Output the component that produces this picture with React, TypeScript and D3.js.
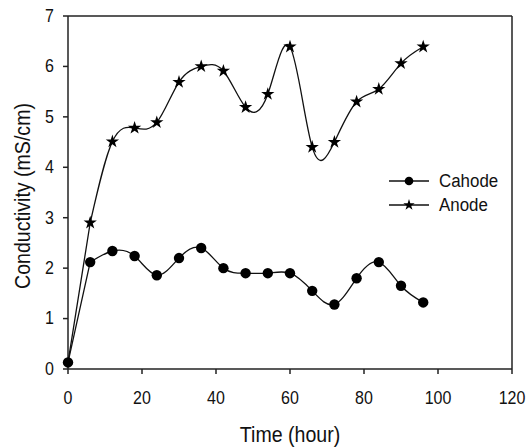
import React from "react";
import * as d3 from "d3";

const times = [0, 6, 12, 18, 24, 30, 36, 42, 48, 54, 60, 66, 72, 78, 84, 90, 96];
const cathode = [0.13, 2.12, 2.34, 2.24, 1.86, 2.2, 2.4, 2.0, 1.9, 1.9, 1.9, 1.55, 1.28, 1.8, 2.12, 1.65, 1.32];
const anode = [0.13, 2.9, 4.51, 4.78, 4.89, 5.69, 6.0, 5.91, 5.19, 5.45, 6.39, 4.4, 4.5, 5.3, 5.55, 6.06, 6.39];
const xTicks = [0, 20, 40, 60, 80, 100, 120];
const yTicks = [0, 1, 2, 3, 4, 5, 6, 7];
const legendLabels = ["Cahode", "Anode"];

const W = 529, H = 448;
const SX = 0.89;
const FONT = "Arial, 'Liberation Sans', sans-serif";

export default function App() {
  const x = d3.scaleLinear().domain([0, 120]).range([68, 512]);
  const y = d3.scaleLinear().domain([0, 7]).range([369, 16]);

  const toPts = (vals: number[]) => times.map((t, i) => [x(t), y(vals[i])] as [number, number]);
  const straight = d3.line().curve(d3.curveLinear);
  const smooth = d3.line().curve(d3.curveNatural);

  const seriesPath = (vals: number[]) => {
    const p = toPts(vals);
    return (straight(p.slice(0, 2)) || "") + (smooth(p.slice(1)) || "");
  };

  const star = d3.symbol().type(d3.symbolStar).size(55)() || "";
  const starSmall = d3.symbol().type(d3.symbolStar).size(40)() || "";

  const txt = (s: string, tx: number, ty: number, size: number, anchor: string, rot = 0, key?: any) => (
    <text
      key={key}
      transform={`translate(${tx},${ty}) rotate(${rot}) scale(${SX},1)`}
      fontSize={size}
      fontFamily={FONT}
      textAnchor={anchor}
      dominantBaseline="central"
      fill="#111"
    >
      {s}
    </text>
  );

  return (
    <svg width={W} height={H} style={{ position: "absolute", left: 0, top: 0, background: "#fff" }}>
      <rect x={0} y={0} width={W} height={H} fill="#fff" />
      {/* frame */}
      <g stroke="#222" strokeWidth={1.5} fill="none">
        <line x1={x(0)} x2={x(120)} y1={y(0)} y2={y(0)} />
        <line x1={x(0)} x2={x(0)} y1={y(0)} y2={y(7)} />
        <line x1={x(0)} x2={x(120)} y1={y(7)} y2={y(7)} />
        <line x1={x(120)} x2={x(120)} y1={y(0)} y2={y(7)} />
        {xTicks.map((t) => (
          <line key={"xt" + t} x1={x(t)} x2={x(t)} y1={y(0)} y2={y(0) + 5} />
        ))}
        {yTicks.map((t) => (
          <line key={"yt" + t} x1={x(0) - 5} x2={x(0)} y1={y(t)} y2={y(t)} />
        ))}
      </g>
      {xTicks.map((t) => txt(String(t), x(t), 398, 18, "middle", 0, "xl" + t))}
      {yTicks.map((t) => txt(String(t), 54, y(t), 18, "end", 0, "yl" + t))}
      {txt("Time (hour)", 290, 434, 22, "middle")}
      {txt("Conductivity (mS/cm)", 22, 196, 22, "middle", -90)}

      {/* series */}
      <path d={seriesPath(anode)} fill="none" stroke="#111" strokeWidth={1.3} />
      <path d={seriesPath(cathode)} fill="none" stroke="#111" strokeWidth={1.3} />
      {toPts(cathode).map(([px, py], i) => (
        <circle key={"c" + i} cx={px} cy={py} r={5.2} fill="#000" />
      ))}
      {toPts(anode).slice(1).map(([px, py], i) => (
        <path key={"a" + i} d={star} transform={`translate(${px},${py})`} fill="#000" />
      ))}

      {/* legend */}
      <g>
        <line x1={389} x2={429} y1={181} y2={181} stroke="#111" strokeWidth={1.3} />
        <circle cx={409} cy={181} r={4.3} fill="#000" />
        {txt(legendLabels[0], 439, 181, 19, "start")}
        <line x1={389} x2={429} y1={205} y2={205} stroke="#111" strokeWidth={1.3} />
        <path d={starSmall} transform="translate(409,205)" fill="#000" />
        {txt(legendLabels[1], 439, 205, 19, "start")}
      </g>
    </svg>
  );
}
